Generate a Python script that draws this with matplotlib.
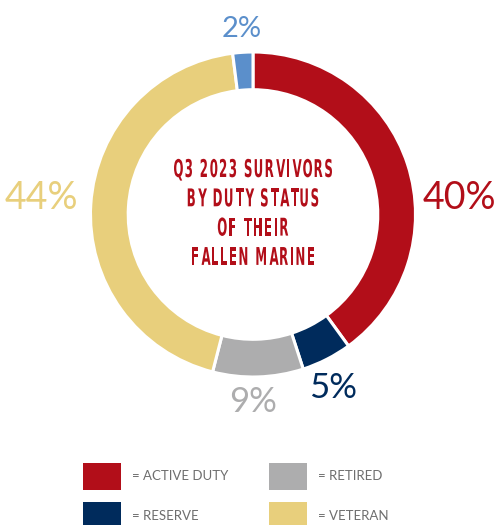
import matplotlib.pyplot as plt
from matplotlib.patches import Rectangle, PathPatch
from matplotlib.textpath import TextPath
from matplotlib.font_manager import FontProperties
from matplotlib.transforms import Affine2D

# Survivor shares by duty status (clockwise from top)
categories = ['ACTIVE DUTY', 'RESERVE', 'RETIRED', 'VETERAN', 'OTHER']
values = [40, 5, 9, 44, 2]
colors = ['#B20E19', '#002B5C', '#ADADAE', '#E8CF7C', '#5B8FCB']

legend_items = ['ACTIVE DUTY', 'RETIRED', 'RESERVE', 'VETERAN']
title_lines = ['Q3 2023 SURVIVORS', 'BY DUTY STATUS', 'OF THEIR', 'FALLEN MARINE']

W, H = 495, 525
fig = plt.figure(figsize=(W / 100, H / 100), dpi=100)

# donut
cx, cy, r = 253, 214.5, 162.5
ax = fig.add_axes([(cx - r) / W, (H - cy - r) / H, 2 * r / W, 2 * r / H])
ax.pie(values, colors=colors, startangle=90, counterclock=False,
       wedgeprops=dict(width=0.232, edgecolor='white', linewidth=2.2))
ax.set_xlim(-1, 1)
ax.set_ylim(-1, 1)
ax.set_aspect('equal')
ax.axis('off')

# overlay in pixel coords
ov = fig.add_axes([0, 0, 1, 1])
ov.set_xlim(0, W)
ov.set_ylim(H, 0)
ov.axis('off')

# condensed, letter-spaced title built from glyph paths
fp = FontProperties(family='DejaVu Sans', weight='bold')
size = 24.5
trk = 1.4


def pw(s):
    return TextPath((0, 0), s, size=size, prop=fp).get_extents().width


hh = pw('HH')


def adv(ch):
    return pw('H' + ch + 'H') - hh


def ink(line):
    return sum(adv(c) for c in line[:-1]) + pw(line[-1])


sx = (158 - trk * (len(title_lines[0]) - 1)) / ink(title_lines[0])
for i, line in enumerate(title_lines):
    total = sx * ink(line) + trk * (len(line) - 1)
    x = cx - total / 2
    base = 177 + i * 29.3
    for ch in line:
        if ch != ' ':
            p = TextPath((0, 0), ch, size=size, prop=fp)
            x0 = p.get_extents().x0
            tr = Affine2D().translate(-x0, 0).scale(sx, -1).translate(x, base)
            ov.add_patch(PathPatch(p, transform=tr + ov.transData,
                                   color='#B20E19', lw=0))
        x += sx * adv(ch) + trk

label_pos = [(459, 198), (333, 388), (253, 402), (41, 198), (242, 29)]
label_size = [27, 25, 25, 27, 21]
for v, c, (x, y), s in zip(values, colors, label_pos, label_size):
    ov.text(x, y, '%d%%' % v, ha='center', va='center', color=c,
            fontsize=s, fontfamily='Lato')

# legend
sq = [(83, 463), (269, 463), (83, 502), (269, 502)]
for name, (x, y) in zip(legend_items, sq):
    c = colors[categories.index(name)]
    ov.add_patch(Rectangle((x, y), 38, 27, color=c, lw=0))
    ov.text(x + 49, y + 13.5, '= ' + name, ha='left', va='center',
            color='#6E6E6E', fontsize=9.5, fontfamily='Lato')

fig.savefig('out.png', dpi=100)
